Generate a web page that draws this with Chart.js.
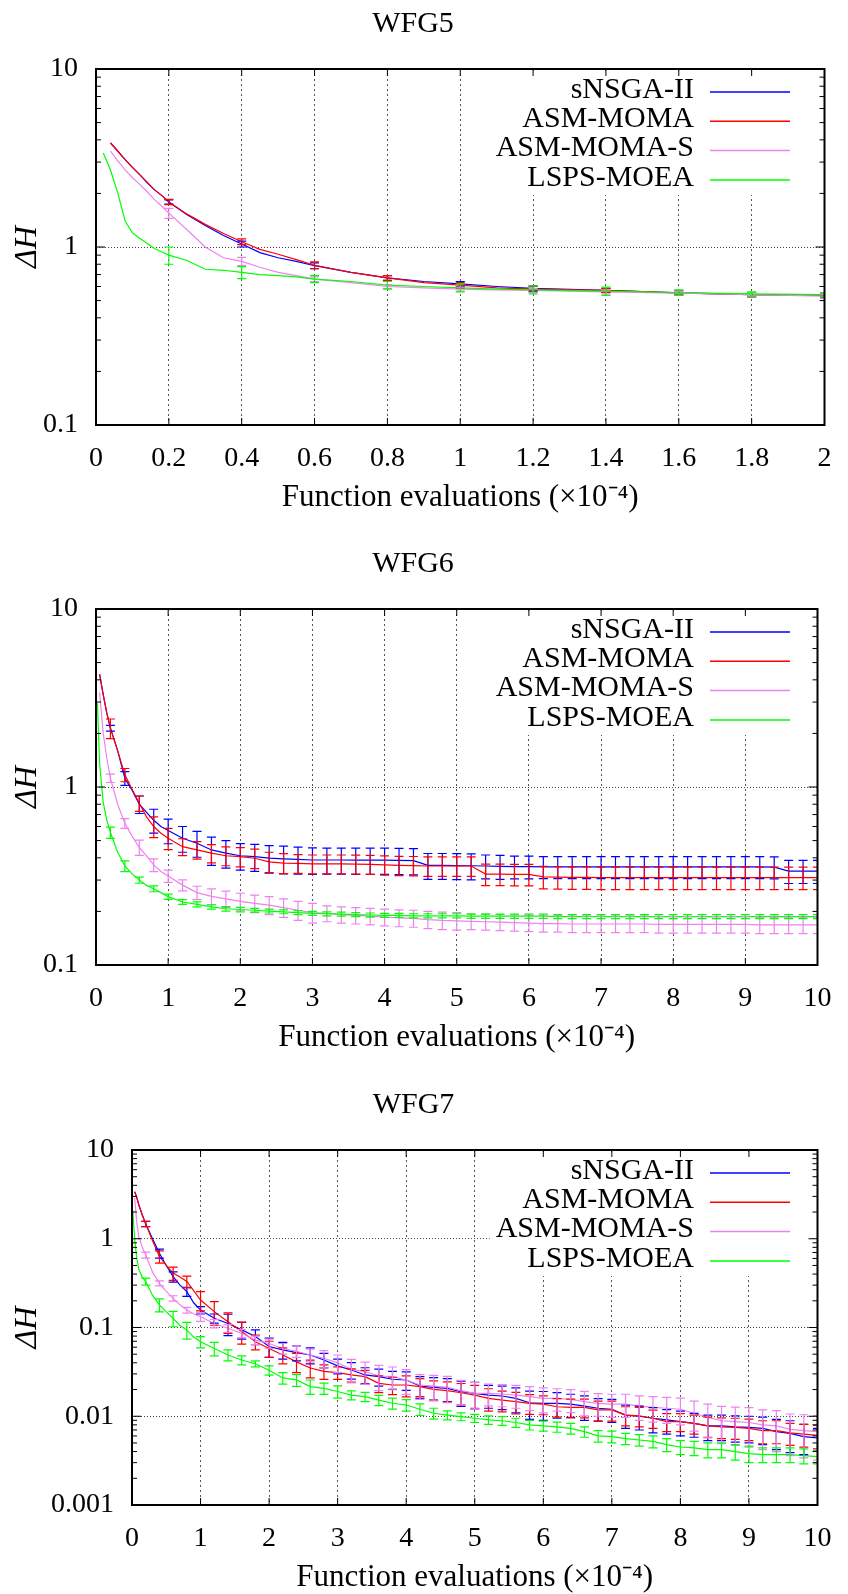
<!DOCTYPE html>
<html>
<head>
<meta charset="utf-8">
<script src="https://cdn.jsdelivr.net/npm/chart.js@4.4.1/dist/chart.umd.min.js"></script>
<style>
  html, body { margin: 0; padding: 0; background: #fff; }
  body { width: 848px; height: 1594px; position: relative; overflow: hidden; }
  canvas { position: absolute; left: 0; }
</style>
</head>
<body>
<canvas id="wfg5" width="848" height="530" style="top:0px"></canvas>
<canvas id="wfg6" width="848" height="530" style="top:530px"></canvas>
<canvas id="wfg7" width="848" height="534" style="top:1060px"></canvas>
<script>
const FONT = "'Liberation Serif', 'Times New Roman', serif";
const n = null;

const seriesNames = ['sNSGA-II', 'ASM-MOMA', 'ASM-MOMA-S', 'LSPS-MOEA'];
const seriesColors = ['#0000ff', '#ff0000', '#ee82ee', '#00ff00'];

// ---------------- WFG5 ----------------
const xTicks5 = [0, 0.2, 0.4, 0.6, 0.8, 1, 1.2, 1.4, 1.6, 1.8, 2];
const yTicks5 = [0.1, 1, 10];
const xs5 = [0.02, 0.04, 0.06, 0.08, 0.1, 0.12, 0.14, 0.16, 0.18, 0.2, 0.25, 0.3, 0.35, 0.4,
  0.45, 0.5, 0.55, 0.6, 0.7, 0.8, 0.9, 1.0, 1.1, 1.2, 1.4, 1.6, 1.8, 2.0];
const wfg5Snsga = [n, 3.84, 3.45, 3.1, 2.8, 2.55, 2.3, 2.1, 1.95, 1.79, 1.52, 1.32, 1.16, 1.04,
  0.93, 0.87, 0.83, 0.785, 0.72, 0.67, 0.64, 0.62, 0.60, 0.585, 0.57, 0.553, 0.54, 0.537];
const wfg5SnsgaErr = [n, n, n, n, n, n, n, n, n, 0.05, n, n, n, 0.04,
  n, n, n, 0.03, n, 0.02, n, 0.02, n, 0.02, 0.015, 0.015, 0.015, 0.015];
const wfg5Asm = [n, 3.84, 3.45, 3.1, 2.8, 2.55, 2.32, 2.1, 1.95, 1.79, 1.53, 1.34, 1.19, 1.07,
  0.97, 0.91, 0.85, 0.79, 0.72, 0.67, 0.63, 0.61, 0.59, 0.58, 0.57, 0.553, 0.54, 0.537];
const wfg5AsmErr = [n, n, n, n, n, n, n, n, n, 0.06, n, n, n, 0.04,
  n, n, n, 0.035, n, 0.02, n, 0.02, n, 0.02, 0.015, 0.015, 0.015, 0.015];
const wfg5AsmS = [n, 3.46, 3.05, 2.71, 2.45, 2.25, 2.05, 1.85, 1.7, 1.55, 1.25, 1.0, 0.87, 0.83,
  0.77, 0.72, 0.69, 0.66, 0.63, 0.60, 0.59, 0.58, 0.575, 0.57, 0.56, 0.55, 0.54, 0.53];
const wfg5AsmSErr = [n, n, n, n, n, n, n, n, n, 0.1, n, n, n, 0.045,
  n, n, n, 0.02, n, 0.015, n, 0.015, n, 0.015, 0.015, 0.015, 0.015, 0.015];
const wfg5Lsps = [3.37, 2.7, 2.0, 1.4, 1.2, 1.12, 1.05, 0.98, 0.94, 0.90, 0.84, 0.75, 0.74, 0.72,
  0.70, 0.69, 0.68, 0.66, 0.64, 0.61, 0.60, 0.59, 0.58, 0.575, 0.565, 0.555, 0.545, 0.54];
const wfg5LspsErr = [n, n, n, n, n, n, n, n, n, 0.1, n, n, n, 0.055,
  n, n, n, 0.03, n, 0.03, n, 0.03, n, 0.03, 0.03, 0.02, 0.015, 0.015];

// ---------------- WFG6 ----------------
const xTicks6 = [0, 1, 2, 3, 4, 5, 6, 7, 8, 9, 10];
const yTicks6 = [0.1, 1, 10];
const xs6 = [0.02, 0.05, 0.1, 0.15, 0.2, 0.3, 0.4, 0.5, 0.6, 0.7, 0.8, 0.9, 1.0,
  1.2, 1.4, 1.6, 1.8, 2.0, 2.2, 2.4, 2.6, 2.8, 3.0,
  3.2, 3.4, 3.6, 3.8, 4.0, 4.2, 4.4, 4.6, 4.8, 5.0,
  5.2, 5.4, 5.6, 5.8, 6.0, 6.2, 6.4, 6.6, 6.8, 7.0,
  7.2, 7.4, 7.6, 7.8, 8.0, 8.2, 8.4, 8.6, 8.8, 9.0,
  9.2, 9.4, 9.6, 9.8, 10.0];
const wfg6Snsga = [n, 4.3, 3.3, 2.6, 2.14, 1.6, 1.12, 0.96, 0.8, 0.72, 0.65, 0.6, 0.57,
  0.515, 0.483, 0.443, 0.425, 0.411, 0.406, 0.398, 0.395, 0.392, 0.389,
  0.389, 0.389, 0.388, 0.388, 0.388, 0.387, 0.386, 0.363, 0.363, 0.362,
  0.361, 0.36, 0.358, 0.357, 0.357, 0.356, 0.356, 0.356, 0.356, 0.356,
  0.356, 0.356, 0.356, 0.356, 0.356, 0.356, 0.356, 0.356, 0.356, 0.356,
  0.356, 0.355, 0.337, 0.337, 0.337];
const wfg6SnsgaErr = [n, n, n, n, 0.08, n, 0.1, n, 0.09, n, 0.1, n, 0.09,
  0.085, 0.08, 0.08, 0.075, 0.07, 0.07, 0.07, 0.07, 0.068, 0.066,
  0.065, 0.065, 0.065, 0.065, 0.065, 0.065, 0.065, 0.06, 0.06, 0.06,
  0.06, 0.055, 0.055, 0.052, 0.052, 0.05, 0.05, 0.05, 0.05, 0.05,
  0.05, 0.05, 0.05, 0.05, 0.05, 0.05, 0.05, 0.05, 0.05, 0.05,
  0.05, 0.05, 0.05, 0.05, 0.05];
const wfg6Asm = [n, 4.3, 3.3, 2.6, 2.14, 1.6, 1.17, 0.97, 0.81, 0.68, 0.6, 0.55, 0.515,
  0.462, 0.443, 0.425, 0.411, 0.406, 0.398, 0.38, 0.374, 0.372, 0.37,
  0.37, 0.37, 0.369, 0.368, 0.365, 0.363, 0.362, 0.36, 0.36, 0.36,
  0.36, 0.324, 0.324, 0.323, 0.323, 0.313, 0.312, 0.311, 0.311, 0.31,
  0.31, 0.31, 0.31, 0.31, 0.31, 0.31, 0.31, 0.31, 0.31, 0.31,
  0.31, 0.31, 0.31, 0.31, 0.31];
const wfg6AsmErr = [n, n, n, n, 0.27, n, 0.1, n, 0.08, n, 0.08, n, 0.07,
  0.05, 0.05, 0.05, 0.05, 0.05, 0.05, 0.05, 0.048, 0.045, 0.045,
  0.045, 0.045, 0.045, 0.045, 0.045, 0.045, 0.045, 0.045, 0.045, 0.045,
  0.045, 0.045, 0.045, 0.045, 0.045, 0.045, 0.045, 0.045, 0.045, 0.045,
  0.045, 0.045, 0.045, 0.045, 0.045, 0.045, 0.045, 0.045, 0.045, 0.045,
  0.045, 0.045, 0.045, 0.045, 0.045];
const wfg6AsmS = [n, 3.4, 2.0, 1.45, 1.12, 0.8, 0.625, 0.53, 0.458, 0.41, 0.365, 0.335, 0.316,
  0.281, 0.255, 0.243, 0.235, 0.228, 0.222, 0.217, 0.21, 0.203, 0.197,
  0.195, 0.192, 0.19, 0.188, 0.186, 0.184, 0.183, 0.18, 0.178, 0.177,
  0.176, 0.175, 0.174, 0.173, 0.172, 0.171, 0.171, 0.17, 0.17, 0.17,
  0.17, 0.17, 0.17, 0.169, 0.169, 0.169, 0.169, 0.169, 0.169, 0.169,
  0.168, 0.168, 0.168, 0.168, 0.168];
const wfg6AsmSErr = [n, n, n, n, 0.06, n, 0.04, n, 0.045, n, 0.03, n, 0.025,
  0.02, 0.022, 0.025, 0.025, 0.025, 0.025, 0.025, 0.025, 0.025, 0.025,
  0.02, 0.02, 0.02, 0.02, 0.02, 0.02, 0.02, 0.02, 0.02, 0.02,
  0.018, 0.018, 0.018, 0.018, 0.018, 0.018, 0.018, 0.018, 0.018, 0.018,
  0.018, 0.018, 0.018, 0.018, 0.018, 0.018, 0.018, 0.018, 0.018, 0.018,
  0.018, 0.018, 0.018, 0.018, 0.018];
const wfg6Lsps = [2.95, 1.35, 0.82, 0.65, 0.555, 0.43, 0.36, 0.325, 0.3, 0.28, 0.268, 0.255, 0.242,
  0.226, 0.219, 0.212, 0.207, 0.205, 0.203, 0.201, 0.199, 0.197, 0.195,
  0.194, 0.193, 0.192, 0.191, 0.19, 0.19, 0.189, 0.189, 0.189, 0.189,
  0.188, 0.188, 0.188, 0.188, 0.188, 0.188, 0.187, 0.187, 0.187, 0.187,
  0.187, 0.187, 0.187, 0.187, 0.187, 0.187, 0.187, 0.187, 0.187, 0.187,
  0.187, 0.187, 0.187, 0.187, 0.187];
const wfg6LspsErr = [n, n, n, n, 0.04, n, 0.025, n, 0.012, n, 0.01, n, 0.008,
  0.007, 0.007, 0.006, 0.006, 0.006, 0.005, 0.005, 0.005, 0.005, 0.005,
  0.005, 0.005, 0.005, 0.005, 0.005, 0.005, 0.005, 0.005, 0.005, 0.005,
  0.005, 0.005, 0.005, 0.005, 0.005, 0.005, 0.005, 0.005, 0.005, 0.005,
  0.005, 0.005, 0.005, 0.005, 0.005, 0.005, 0.005, 0.005, 0.005, 0.005,
  0.005, 0.005, 0.005, 0.005, 0.005];

// ---------------- WFG7 ----------------
const xTicks7 = [0, 1, 2, 3, 4, 5, 6, 7, 8, 9, 10];
const yTicks7 = [0.001, 0.01, 0.1, 1, 10];
const xs7 = [0.01, 0.04, 0.07, 0.1, 0.15, 0.2, 0.3, 0.4, 0.5, 0.6, 0.7, 0.8, 0.9, 1.0,
  1.2, 1.4, 1.6, 1.8, 2.0, 2.2, 2.4, 2.6, 2.8, 3.0,
  3.2, 3.4, 3.6, 3.8, 4.0, 4.2, 4.4, 4.6, 4.8, 5.0,
  5.2, 5.4, 5.6, 5.8, 6.0, 6.2, 6.4, 6.6, 6.8, 7.0,
  7.2, 7.4, 7.6, 7.8, 8.0, 8.2, 8.4, 8.6, 8.8, 9.0,
  9.2, 9.4, 9.6, 9.8, 10.0];
const wfg7Snsga = [n, 3.39, 2.9, 2.4, 1.85, 1.47, 1.0, 0.685, 0.5, 0.374, 0.3, 0.254, 0.19, 0.157,
  0.127, 0.111, 0.094, 0.079, 0.061, 0.056, 0.052, 0.049, 0.043, 0.037,
  0.0332, 0.0292, 0.0279, 0.0261, 0.0256, 0.0219, 0.0212, 0.0206, 0.0189, 0.0181,
  0.0173, 0.0169, 0.0159, 0.0142, 0.014, 0.014, 0.0137, 0.013, 0.0123, 0.012,
  0.0103, 0.01, 0.0095, 0.0091, 0.0087, 0.0083, 0.0078, 0.0078, 0.0076, 0.0075,
  0.0073, 0.0067, 0.0064, 0.0059, 0.0057];
const wfg7SnsgaErr = [n, n, n, n, n, 0.1, n, 0.08, n, 0.05, n, 0.03, n, 0.015,
  0.015, 0.03, 0.02, 0.015, 0.015, 0.012, 0.01, 0.01, 0.008, 0.007,
  0.007, 0.006, 0.006, 0.006, 0.006, 0.006, 0.006, 0.006, 0.006, 0.006,
  0.005, 0.005, 0.005, 0.005, 0.005, 0.0045, 0.004, 0.004, 0.0035, 0.0035,
  0.003, 0.003, 0.003, 0.0028, 0.0027, 0.0025, 0.0025, 0.0025, 0.0025, 0.0025,
  0.0025, 0.0025, 0.0025, 0.0022, 0.0016];
const wfg7Asm = [n, 3.39, 2.9, 2.4, 1.85, 1.47, 0.95, 0.63, 0.5, 0.41, 0.37, 0.33, 0.26, 0.204,
  0.151, 0.116, 0.09, 0.069, 0.058, 0.049, 0.041, 0.035, 0.032, 0.031,
  0.0292, 0.0279, 0.0235, 0.0225, 0.0225, 0.0216, 0.0201, 0.0194, 0.0184, 0.0173,
  0.0159, 0.0152, 0.0146, 0.014, 0.0137, 0.0128, 0.0126, 0.0126, 0.0118, 0.0118,
  0.0103, 0.0101, 0.0095, 0.0087, 0.0087, 0.0083, 0.0078, 0.0076, 0.0075, 0.0073,
  0.0069, 0.0069, 0.0065, 0.0063, 0.0061];
const wfg7AsmErr = [n, n, n, n, n, 0.1, n, 0.1, n, 0.07, n, 0.05, n, 0.05,
  0.045, 0.03, 0.025, 0.013, 0.012, 0.01, 0.01, 0.008, 0.006, 0.005,
  0.005, 0.005, 0.005, 0.005, 0.006, 0.005, 0.005, 0.005, 0.005, 0.005,
  0.0045, 0.004, 0.004, 0.0035, 0.0033, 0.003, 0.003, 0.003, 0.003, 0.003,
  0.0025, 0.0025, 0.0022, 0.002, 0.002, 0.002, 0.002, 0.002, 0.002, 0.002,
  0.002, 0.002, 0.0018, 0.0018, 0.0018];
const wfg7AsmS = [n, 2.9, 1.5, 1.05, 0.8, 0.655, 0.42, 0.315, 0.255, 0.213, 0.18, 0.157, 0.143, 0.132,
  0.111, 0.098, 0.086, 0.072, 0.066, 0.058, 0.054, 0.049, 0.045, 0.04,
  0.0338, 0.0318, 0.0284, 0.0279, 0.0256, 0.0225, 0.0219, 0.0212, 0.0194, 0.0181,
  0.0181, 0.0178, 0.0173, 0.0166, 0.0159, 0.0159, 0.0155, 0.0146, 0.014, 0.0137,
  0.0137, 0.013, 0.0126, 0.0123, 0.012, 0.0108, 0.0097, 0.0089, 0.0087, 0.0085,
  0.008, 0.0078, 0.0071, 0.0069, 0.0067];
const wfg7AsmSErr = [n, n, n, n, n, 0.05, n, 0.02, n, 0.015, n, 0.012, n, 0.015,
  0.012, 0.01, 0.009, 0.008, 0.008, 0.008, 0.008, 0.008, 0.01, 0.009,
  0.01, 0.009, 0.009, 0.008, 0.008, 0.007, 0.007, 0.007, 0.006, 0.006,
  0.005, 0.005, 0.005, 0.005, 0.005, 0.0045, 0.0045, 0.0045, 0.004, 0.004,
  0.004, 0.004, 0.004, 0.004, 0.004, 0.004, 0.004, 0.004, 0.004, 0.004,
  0.0038, 0.0038, 0.0035, 0.0035, 0.0035];
const wfg7Lsps = [2.1, 0.97, 0.6, 0.45, 0.37, 0.33, 0.23, 0.18, 0.15, 0.127, 0.105, 0.094, 0.078, 0.069,
  0.058, 0.049, 0.043, 0.039, 0.033, 0.027, 0.0257, 0.0216, 0.0206, 0.019,
  0.0173, 0.0166, 0.0152, 0.014, 0.0134, 0.012, 0.0108, 0.0103, 0.0099, 0.0095,
  0.0091, 0.0089, 0.0085, 0.008, 0.0078, 0.0076, 0.0073, 0.0067, 0.006, 0.0059,
  0.0056, 0.0054, 0.0052, 0.0048, 0.0045, 0.0044, 0.0042, 0.0042, 0.004, 0.0038,
  0.0037, 0.0037, 0.0037, 0.0036, 0.0035];
const wfg7LspsErr = [n, n, n, n, n, 0.03, n, 0.03, n, 0.025, n, 0.02, n, 0.01,
  0.01, 0.007, 0.005, 0.003, 0.004, 0.004, 0.004, 0.004, 0.003, 0.003,
  0.002, 0.002, 0.002, 0.002, 0.002, 0.0018, 0.0015, 0.0012, 0.001, 0.001,
  0.001, 0.001, 0.001, 0.001, 0.001, 0.001, 0.001, 0.0009, 0.0009, 0.0009,
  0.0008, 0.0008, 0.0008, 0.0008, 0.0008, 0.0008, 0.0008, 0.0008, 0.0008, 0.0008,
  0.0007, 0.0007, 0.0007, 0.0007, 0.0006];

Chart.defaults.font.family = FONT;
Chart.defaults.color = '#000';

// frame, inward ticks, key box and error bars in the gnuplot manner
const gnuplotLook = {
  id: 'gnuplotLook',
  beforeDatasetsDraw(chart) {
    const { ctx, chartArea: a } = chart;
    const textRight = 694, lineL = 710, lineR = 790;
    ctx.save();
    ctx.font = '30px ' + FONT;
    let wMax = 0;
    chart.data.datasets.forEach(ds => { wMax = Math.max(wMax, ctx.measureText(ds.label).width); });
    const boxL = textRight - wMax - 6;
    ctx.fillStyle = '#fff';
    ctx.fillRect(boxL, a.top + 2, 812 - boxL, 124);
    chart.data.datasets.forEach((ds, i) => {
      const yy = a.top + 23 + 29.3 * i;
      ctx.fillStyle = '#000';
      ctx.textAlign = 'right';
      ctx.textBaseline = 'middle';
      ctx.fillText(ds.label, textRight, yy - 2);
      ctx.strokeStyle = ds.borderColor;
      ctx.lineWidth = 1.5;
      ctx.beginPath();
      ctx.moveTo(lineL, yy);
      ctx.lineTo(lineR, yy);
      ctx.stroke();
    });
    ctx.restore();
  },
  afterDatasetsDraw(chart) {
    const { ctx, chartArea: a, scales: { x, y } } = chart;
    ctx.save();
    ctx.beginPath();
    ctx.rect(a.left, a.top, a.right - a.left, a.bottom - a.top);
    ctx.clip();
    chart.data.datasets.forEach(ds => {
      ctx.strokeStyle = ds.borderColor;
      ctx.lineWidth = 1.2;
      ds.errHalf.forEach((e, k) => {
        const pt = ds.data[k];
        if (e == null || pt.y == null) return;
        const px = x.getPixelForValue(pt.x);
        const yTop = y.getPixelForValue(pt.y + e);
        const yBot = y.getPixelForValue(Math.max(pt.y - e, y.min / 10));
        ctx.beginPath();
        ctx.moveTo(px, yTop); ctx.lineTo(px, yBot);
        ctx.moveTo(px - 4.5, yTop); ctx.lineTo(px + 4.5, yTop);
        ctx.moveTo(px - 4.5, yBot); ctx.lineTo(px + 4.5, yBot);
        ctx.stroke();
      });
    });
    ctx.restore();
  },
  afterDraw(chart) {
    const { ctx, chartArea: a, scales: { x, y } } = chart;
    ctx.save();
    ctx.strokeStyle = '#000';
    ctx.lineWidth = 1;
    ctx.beginPath();
    x.ticks.forEach(t => {
      const px = x.getPixelForValue(t.value);
      ctx.moveTo(px, a.bottom); ctx.lineTo(px, a.bottom - 7);
      ctx.moveTo(px, a.top); ctx.lineTo(px, a.top + 7);
    });
    const decades = y.ticks.map(t => t.value);
    decades.forEach((d, i) => {
      const py = y.getPixelForValue(d);
      ctx.moveTo(a.left, py); ctx.lineTo(a.left + 9, py);
      ctx.moveTo(a.right, py); ctx.lineTo(a.right - 9, py);
      if (i === decades.length - 1) return;
      for (let m = 2; m <= 9; m++) {
        const pm = y.getPixelForValue(d * m);
        ctx.moveTo(a.left, pm); ctx.lineTo(a.left + 5, pm);
        ctx.moveTo(a.right, pm); ctx.lineTo(a.right - 5, pm);
      }
    });
    ctx.stroke();
    ctx.lineWidth = 2;
    ctx.strokeRect(a.left, a.top, a.right - a.left, a.bottom - a.top);
    ctx.restore();
  }
};

function makeChart(id, cfg) {
  const datasets = cfg.series.map((vals, i) => ({
    label: seriesNames[i],
    data: cfg.xs.map((xv, k) => ({ x: xv, y: vals[k] })),
    errHalf: cfg.errs[i],
    borderColor: seriesColors[i],
    backgroundColor: seriesColors[i],
    borderWidth: 1.2,
    pointRadius: 0,
    tension: 0,
    fill: false,
    order: 4 - i
  }));
  return new Chart(document.getElementById(id), {
    type: 'line',
    data: { datasets },
    options: {
      responsive: false,
      animation: false,
      events: [],
      layout: { padding: { top: 0, right: cfg.rightPad, bottom: cfg.bottomPad, left: 0 } },
      plugins: {
        legend: { display: false },
        tooltip: { enabled: false },
        title: {
          display: true,
          text: cfg.title,
          color: '#000',
          font: { family: FONT, size: 30, weight: 'normal', lineHeight: 1.2 },
          padding: { top: cfg.titleTop, bottom: 27 }
        }
      },
      scales: {
        x: {
          type: 'linear',
          min: 0,
          max: cfg.xTicks[cfg.xTicks.length - 1],
          afterBuildTicks: s => { s.ticks = cfg.xTicks.map(v => ({ value: v })); },
          afterFit: s => { s.height = 88; },
          ticks: { autoSkip: false, maxRotation: 0, padding: 16.5, color: '#000',
                   font: { family: FONT, size: 28 }, callback: v => String(v) },
          grid: { color: '#555', lineWidth: 1, drawTicks: false },
          border: { display: false, dash: [2, 3] },
          title: { display: true, text: 'Function evaluations (×10⁻⁴)', color: '#000',
                   font: { family: FONT, size: 31, lineHeight: 1 }, padding: { top: 0, bottom: 0 } }
        },
        y: {
          type: 'logarithmic',
          min: cfg.yTicks[0],
          max: cfg.yTicks[cfg.yTicks.length - 1],
          afterBuildTicks: s => { s.ticks = cfg.yTicks.map(v => ({ value: v })); },
          afterFit: s => { s.width = cfg.leftW; },
          ticks: { autoSkip: false, padding: 18, color: '#000',
                   font: { family: FONT, size: 28 }, callback: v => String(v) },
          grid: { color: '#444', lineWidth: 1, drawTicks: false },
          border: { display: false, dash: [1, 2] },
          title: { display: true, text: 'ΔH', color: '#000',
                   font: { family: FONT, size: 32, style: 'italic', lineHeight: 1 }, padding: { top: 12, bottom: 0 } }
        }
      }
    },
    plugins: [gnuplotLook]
  });
}

makeChart('wfg5', {
  title: 'WFG5', xs: xs5, xTicks: xTicks5, yTicks: yTicks5,
  series: [wfg5Snsga, wfg5Asm, wfg5AsmS, wfg5Lsps],
  errs: [wfg5SnsgaErr, wfg5AsmErr, wfg5AsmSErr, wfg5LspsErr],
  leftW: 96, rightPad: 22, bottomPad: 17, titleTop: 6
});
makeChart('wfg6', {
  title: 'WFG6', xs: xs6, xTicks: xTicks6, yTicks: yTicks6,
  series: [wfg6Snsga, wfg6Asm, wfg6AsmS, wfg6Lsps],
  errs: [wfg6SnsgaErr, wfg6AsmErr, wfg6AsmSErr, wfg6LspsErr],
  leftW: 96, rightPad: 22, bottomPad: 7, titleTop: 16
});
makeChart('wfg7', {
  title: 'WFG7', xs: xs7, xTicks: xTicks7, yTicks: yTicks7,
  series: [wfg7Snsga, wfg7Asm, wfg7AsmS, wfg7Lsps],
  errs: [wfg7SnsgaErr, wfg7AsmErr, wfg7AsmSErr, wfg7LspsErr],
  leftW: 132, rightPad: 21, bottomPad: 1, titleTop: 27
});
</script>
</body>
</html>
